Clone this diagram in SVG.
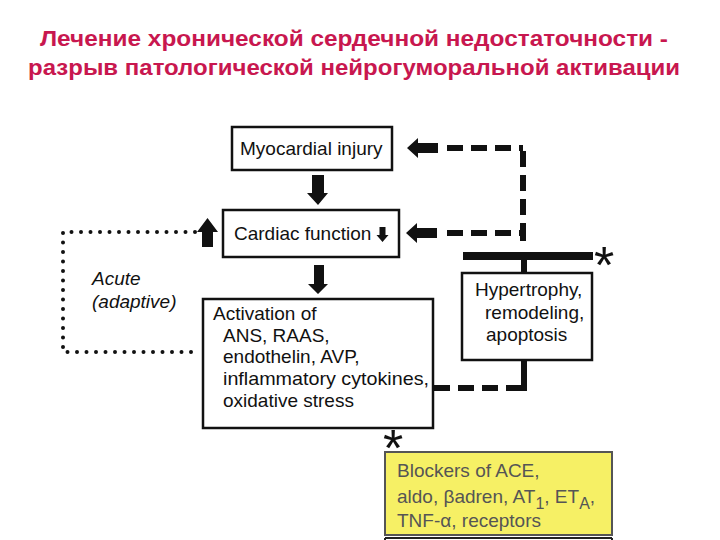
<svg xmlns="http://www.w3.org/2000/svg" width="720" height="540" viewBox="0 0 720 540">
<style>
.t{font-family:"Liberation Sans",Arial,sans-serif;font-size:19px;fill:#111}
.title{font-family:"Liberation Sans",Arial,sans-serif;font-size:22px;font-weight:bold;fill:#c8174f}
.box{fill:#fff;stroke:#111;stroke-width:2.5}
.dash{fill:none;stroke:#111;stroke-width:6;stroke-dasharray:16 8}
.solid{fill:none;stroke:#111}
.dot{fill:none;stroke:#111;stroke-width:4;stroke-linecap:round;stroke-dasharray:0 9.5}
.yt{font-family:"Liberation Sans",Arial,sans-serif;font-size:19px;fill:#555}
.ast{font-family:"Liberation Sans",Arial,sans-serif;font-size:52px;fill:#111}
</style>
<rect width="720" height="540" fill="#fff"/>
<g id="title">
<text class="title" x="354" y="46" text-anchor="middle" textLength="628" lengthAdjust="spacingAndGlyphs">Лечение хронической сердечной недостаточности -</text>
<text class="title" x="354" y="75" text-anchor="middle" textLength="652" lengthAdjust="spacingAndGlyphs">разрыв патологической нейрогуморальной активации</text>
</g>
<g id="connectors">
<path d="M312 175 H324 V193 H328 L318 205 L307 193 H312 Z" fill="#111"/>
<path d="M314 265 H324 V284 H328 L318 294 L308 284 H314 Z" fill="#111"/>
<path d="M202 247 V232 H197 L207.5 218 L218 232 H213 V247 Z" fill="#111"/>
<path class="dot" d="M195 232 H63 V352 H197"/>
<path d="M438 143 V153 H418 V158 L407 148 L418 138 V143 Z" fill="#111"/>
<path d="M437 228 V238 H417 V243 L406 233 L417 223 V228 Z" fill="#111"/>
<path class="dash" d="M447 148 H523"/>
<path class="dash" d="M523 151 V228" stroke-dasharray="20 10"/>
<path class="dash" d="M447 233 H525" stroke-dasharray="18 10"/>
<path class="solid" d="M523 226 V241" stroke-width="6"/>
<path class="solid" d="M463 256 H593" stroke-width="8"/>
<path class="solid" d="M524 256 V274" stroke-width="6"/>
<path class="solid" d="M524 360 V391" stroke-width="6"/>
<path class="dash" d="M434 388 H527" stroke-dasharray="20 12"/>
</g>
<g id="myocardial">
<rect class="box" x="232" y="127" width="160" height="43"/>
<text class="t" x="240" y="155">Myocardial injury</text>
</g>
<g id="cardiac">
<rect class="box" x="223" y="210" width="176" height="47"/>
<text class="t" x="234" y="240">Cardiac function</text>
<path d="M379.5 227 H385.5 V235 H388.5 L382.5 242 L376.5 235 H379.5 Z" fill="#111"/>
</g>
<g id="activation">
<rect class="box" x="203" y="299" width="230" height="129"/>
<text class="t" x="213" y="320">Activation of</text>
<text class="t" x="223" y="342">ANS, RAAS,</text>
<text class="t" x="223" y="363">endothelin, AVP,</text>
<text class="t" x="223" y="385" textLength="206" lengthAdjust="spacingAndGlyphs">inflammatory cytokines,</text>
<text class="t" x="223" y="407">oxidative stress</text>
</g>
<g id="acute">
<text class="t" x="92" y="285" font-style="italic">Acute</text>
<text class="t" x="92" y="308" font-style="italic">(adaptive)</text>
</g>
<g id="hypertrophy">
<rect class="box" x="462" y="273" width="130" height="87"/>
<text class="t" x="475" y="296">Hypertrophy,</text>
<text class="t" x="485" y="319">remodeling,</text>
<text class="t" x="486" y="341">apoptosis</text>
</g>
<g id="asterisks">
<text class="ast" x="594" y="283">*</text>
<text class="ast" x="383" y="466">*</text>
</g>
<g id="blockers">
<rect x="385" y="452" width="227" height="83" fill="#f6f065" stroke="#555" stroke-width="2"/>
<path d="M385 538 V541 M612 538 V541 M385 538 H612" stroke="#222" stroke-width="2" fill="none"/>
<text class="yt" x="397" y="477">Blockers of ACE,</text>
<text class="yt" x="397" y="503">aldo, βadren, AT<tspan font-size="16" dy="6">1</tspan><tspan dy="-6">, ET</tspan><tspan font-size="16" dy="6">A</tspan><tspan dy="-6">,</tspan></text>
<text class="yt" x="397" y="527">TNF-α, receptors</text>
</g>
</svg>
